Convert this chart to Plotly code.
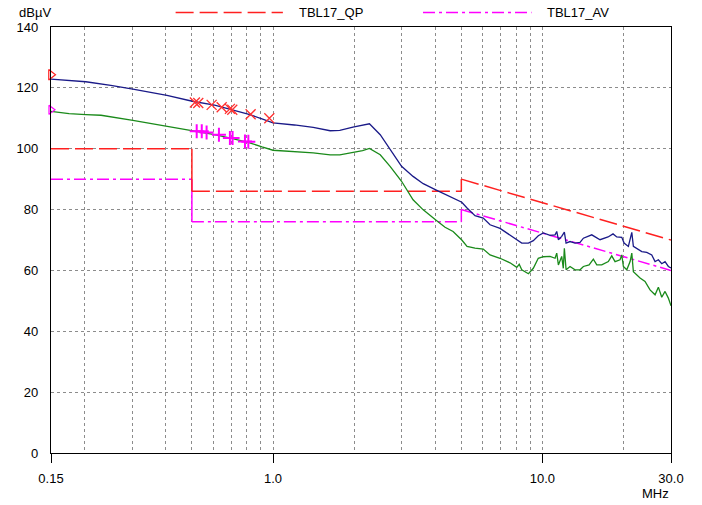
import plotly.graph_objects as go
import math

# ---------------- data ----------------
qp_freq = [0.15, 0.202, 0.25, 0.302, 0.404, 0.502, 0.607, 0.708, 0.808, 0.910,
           1.0, 1.2, 1.41, 1.63, 1.77, 1.98, 2.15, 2.28, 2.50, 2.72,
           3.00, 3.31, 3.61, 4.02, 4.35, 4.66, 5.02, 5.25, 5.62, 6.03,
           6.39, 6.96, 7.58, 8.03, 8.38, 8.87, 9.25, 9.65, 10.08, 10.67,
           11.14, 11.30, 11.46, 11.79, 12.06, 12.24, 12.66, 13.21, 13.79, 14.19,
           15.24, 16.36, 17.52, 18.28, 18.87, 19.70, 20.09, 20.84, 21.46, 21.75,
           22.39, 23.37, 24.39, 25.45, 26.18, 26.93, 27.72, 28.51, 29.33, 30.0]
qp_level = [122.9, 122.0, 120.8, 119.6, 117.5, 115.6, 114.3, 112.8, 111.4, 109.8,
            108.5, 107.8, 107.0, 105.9, 106.0, 107.1, 107.6, 108.2, 104.6, 99.7,
            94.2, 90.9, 88.5, 86.5, 85.0, 83.8, 82.4, 80.5, 78.0, 77.2,
            75.0, 73.8, 71.7, 70.1, 69.0, 69.0, 69.8, 71.4, 72.3, 71.5,
            71.7, 72.8, 70.1, 71.2, 72.6, 69.0, 69.5, 69.0, 69.2, 70.6,
            71.7, 70.1, 71.0, 72.0, 71.0, 70.9, 69.0, 67.9, 72.5, 67.9,
            67.3, 66.2, 65.9, 65.1, 62.9, 63.5, 62.2, 62.9, 61.3, 60.8]

av_freq = [0.15, 0.175, 0.202, 0.23, 0.302, 0.404, 0.502, 0.607, 0.708, 0.808,
           0.910, 1.0, 1.41, 1.63, 1.77, 1.98, 2.15, 2.28, 2.50, 2.72,
           3.00, 3.31, 3.61, 4.02, 4.35, 4.66, 5.02, 5.25, 5.62, 6.03,
           6.39, 6.96, 7.58, 8.03, 8.2, 8.38, 8.87, 9.25, 9.65, 10.08,
           10.67, 11.14, 11.30, 11.46, 11.79, 11.95, 12.06, 12.24, 12.66, 13.21,
           13.79, 14.19, 14.9, 15.45, 15.91, 16.6, 17.56, 18.08, 18.6, 19.41,
           19.70, 19.97, 20.56, 21.15, 21.46, 21.75, 23.03, 24.03, 25.08, 26.18,
           26.93, 27.72, 28.51, 29.33, 30.0]
av_level = [112.3, 111.5, 111.2, 111.0, 109.3, 107.4, 105.9, 104.6, 103.3, 102.1,
            100.6, 99.5, 98.6, 98.0, 98.0, 98.8, 99.4, 100.1, 98.0, 94.2,
            89.3, 83.2, 79.9, 76.6, 74.2, 72.8, 70.0, 67.9, 67.3, 67.0,
            65.1, 64.0, 62.5, 61.0, 62.0, 60.2, 58.9, 60.7, 64.0, 64.5,
            64.6, 64.0, 65.7, 61.8, 64.6, 60.7, 67.3, 60.2, 61.3, 60.2,
            60.2, 61.3, 61.8, 63.7, 61.8, 61.8, 62.9, 64.8, 62.9, 63.5,
            65.1, 61.3, 60.2, 62.9, 65.7, 59.6, 57.5, 56.4, 53.6, 52.0,
            54.5, 51.2, 53.1, 50.9, 48.4]

# limit lines (TBL17): segments start/end frequency and level
lim_seg_start = [0.15, 0.5, 5.0]
lim_seg_end = [0.5, 5.0, 30.0]
qp_lim_start = [100, 86, 90]
qp_lim_end = [100, 86, 70]
av_lim_start = [90, 76, 80]
av_lim_end = [90, 76, 60]

# peak markers
qp_peak_freq = [0.513, 0.528, 0.592, 0.645, 0.692, 0.706, 0.826, 0.969]
qp_peak_level = [115.2, 115.0, 114.4, 113.6, 113.1, 112.8, 111.3, 110.0]
av_peak_freq = [0.521, 0.544, 0.567, 0.630, 0.692, 0.708, 0.787, 0.810]
av_peak_level = [105.7, 105.7, 105.3, 104.6, 103.5, 103.5, 102.4, 102.3]
qp_max_level = 124.3
av_max_level = 112.8

x_tick_vals = [0.15, 1.0, 10.0, 30.0]
x_tick_text = ["0.15", "1.0", "10.0", "30.0"]
x_grid_vals = [0.2, 0.3, 0.4, 0.5, 0.6, 0.7, 0.8, 0.9, 1.0,
               2, 3, 4, 5, 6, 7, 8, 9, 10, 20]
y_tick_vals = [0, 20, 40, 60, 80, 100, 120, 140]

# ---------------- styling ----------------
FONT = "Liberation Sans, Arial, sans-serif"
QP_LIM_COLOR = "#ff2020"
AV_LIM_COLOR = "#ff00ff"
QP_DASH = "18px,6px"
AV_DASH = "12px,4px,3px,4px"


def seg_traces(starts, ends, vs, ve):
    hx, hy, vx, vy = [], [], [], []
    for i in range(len(starts)):
        hx += [starts[i], ends[i], None]
        hy += [vs[i], ve[i], None]
        if i + 1 < len(starts):
            vx += [ends[i], starts[i + 1], None]
            vy += [ve[i], vs[i + 1], None]
    return hx, hy, vx, vy


fig = go.Figure()

# AV limit (drawn first so QP limit is on top)
hx, hy, vx, vy = seg_traces(lim_seg_start, lim_seg_end, av_lim_start, av_lim_end)
fig.add_trace(go.Scatter(x=hx, y=hy, mode="lines",
                         line=dict(color=AV_LIM_COLOR, width=1.5, dash=AV_DASH)))
fig.add_trace(go.Scatter(x=vx, y=vy, mode="lines",
                         line=dict(color=AV_LIM_COLOR, width=1.5)))

hx, hy, vx, vy = seg_traces(lim_seg_start, lim_seg_end, qp_lim_start, qp_lim_end)
fig.add_trace(go.Scatter(x=hx, y=hy, mode="lines",
                         line=dict(color=QP_LIM_COLOR, width=1.5, dash=QP_DASH)))
fig.add_trace(go.Scatter(x=vx, y=vy, mode="lines",
                         line=dict(color=QP_LIM_COLOR, width=1.5)))

# measured traces
fig.add_trace(go.Scatter(x=av_freq, y=av_level, mode="lines",
                         line=dict(color="#1a8a1a", width=1.3)))
fig.add_trace(go.Scatter(x=qp_freq, y=qp_level, mode="lines",
                         line=dict(color="#1a1a88", width=1.3)))

# peak markers (open symbols are stroked with marker.color)
fig.add_trace(go.Scatter(x=qp_peak_freq, y=qp_peak_level, mode="markers",
                         marker=dict(symbol="x-thin-open", size=10, color="#ff3030",
                                     line=dict(color="#ff3030", width=1.3))))
fig.add_trace(go.Scatter(x=av_peak_freq, y=av_peak_level, mode="markers",
                         marker=dict(symbol="cross-thin-open", size=10, color="#ff00ff",
                                     line=dict(color="#ff00ff", width=2))))
fig.add_trace(go.Scatter(x=[qp_freq[0]], y=[qp_max_level], mode="markers",
                         cliponaxis=False,
                         marker=dict(symbol="triangle-right-open", size=9, color="#ff2020",
                                     line=dict(color="#ff2020", width=1.2))))
fig.add_trace(go.Scatter(x=[av_freq[0]], y=[av_max_level], mode="markers",
                         cliponaxis=False,
                         marker=dict(symbol="triangle-right-open", size=8, color="#ff00ff",
                                     line=dict(color="#ff00ff", width=1.2))))

fig.update_traces(showlegend=False, hoverinfo="skip")

fig.update_xaxes(
    type="log",
    range=[math.log10(0.15), math.log10(30.0)],
    tickmode="array", tickvals=x_tick_vals, ticktext=x_tick_text,
    ticks="outside", ticklen=9, tickcolor="#000000", tickwidth=1,
    ticklabelstandoff=4,
    showgrid=False,
    minor=dict(tickmode="array", tickvals=x_grid_vals, showgrid=True,
               gridcolor="#8c8c8c", griddash="3px,3px", gridwidth=1, ticks=""),
    showline=True, linecolor="#000000", linewidth=1.3, mirror=True,
    zeroline=False,
    tickfont=dict(family=FONT, size=13, color="#000000"),
)
fig.update_yaxes(
    range=[0, 140],
    tickmode="array", tickvals=y_tick_vals,
    ticks="", ticklabelstandoff=9,
    showgrid=True, gridcolor="#8c8c8c", griddash="3px,3px", gridwidth=1,
    showline=True, linecolor="#000000", linewidth=1.3, mirror=True,
    zeroline=False,
    tickfont=dict(family=FONT, size=13, color="#000000"),
)

# custom legend (line samples + labels) above the plot
legend_y = 1.034
fig.add_shape(type="line", xref="paper", yref="paper",
              x0=0.201, x1=0.374, y0=legend_y, y1=legend_y,
              line=dict(color=QP_LIM_COLOR, width=1.5, dash=QP_DASH))
fig.add_shape(type="line", xref="paper", yref="paper",
              x0=0.600, x1=0.775, y0=legend_y, y1=legend_y,
              line=dict(color=AV_LIM_COLOR, width=1.5, dash=AV_DASH))

annos = [
    dict(text="TBL17_QP", x=0.396, y=legend_y, xanchor="left"),
    dict(text="TBL17_AV", x=0.797, y=legend_y, xanchor="left"),
    dict(text="dBµV", x=-0.055, y=1.034, xanchor="left"),
    dict(text="MHz", x=0.975, y=-0.094, xanchor="center"),
]
for a in annos:
    fig.add_annotation(xref="paper", yref="paper", yanchor="middle",
                       showarrow=False,
                       font=dict(family=FONT, size=13, color="#000000"), **a)

fig.update_layout(
    width=702, height=505,
    margin=dict(l=51, r=31, t=27, b=52),
    paper_bgcolor="#ffffff", plot_bgcolor="#ffffff",
    showlegend=False,
)

fig.write_html("out.html",
               config={"displayModeBar": False},
               post_script="document.body.style.margin='0px';document.body.style.padding='0px';")
